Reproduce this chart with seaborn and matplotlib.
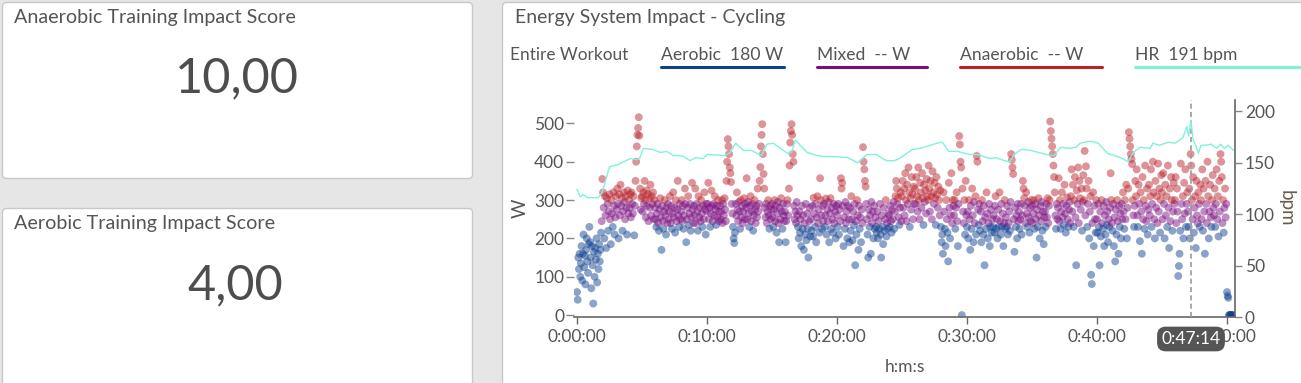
import numpy as np
import pandas as pd
import matplotlib
matplotlib.use("Agg")
import matplotlib.pyplot as plt
import seaborn as sns
from matplotlib.patches import FancyBboxPatch
from matplotlib.transforms import IdentityTransform

# ---------------- data ----------------
# power samples (W), one every 3 s, 20 per minute
power_w = [
    60, 40, 150, 120, 160, 100, 135, 180, 90, 160, 210, 125, 155, 80, 170, 200, 140, 110, 185, 230,
    190, 150, 70, 180, 130, 30, 165, 100, 175, 145, 200, 85, 160, 120, 185, 140, 170, 215, 245, 355,
    320, 280, 200, 310, 260, 175, 305, 290, 220, 270, 315, 250, 185, 300, 265, 230, 320, 285, 210, 255,
    310, 275, 330, 290, 200, 315, 260, 340, 285, 305, 220, 270, 320, 295, 250, 310, 280, 210, 325, 265,
    300, 280, 315, 255, 320, 290, 265, 310, 208, 285, 350, 400, 440, 470, 488, 516, 468, 330, 275, 305,
    310, 270, 320, 290, 350, 300, 255, 325, 285, 315, 245, 305, 280, 340, 260, 310, 290, 320, 250, 300,
    280, 250, 230, 265, 290, 240, 220, 275, 305, 255, 170, 285, 245, 225, 270, 300, 260, 210, 280, 240,
    290, 250, 270, 310, 240, 285, 225, 265, 320, 255, 280, 215, 300, 245, 275, 350, 260, 230, 290, 250,
    270, 300, 245, 285, 225, 260, 330, 290, 190, 250, 280, 310, 235, 265, 290, 220, 255, 345, 275, 240,
    285, 260, 330, 240, 290, 270, 220, 310, 255, 280, 245, 300, 265, 230, 285, 250, 320, 275, 210, 290,
    270, 290, 345, 250, 280, 230, 265, 325, 285, 245, 290, 260, 310, 275, 235, 285, 255, 300, 270, 245,
    285, 250, 270, 300, 240, 290, 260, 305, 275, 245, 350, 400, 459, 440, 420, 385, 370, 347, 290, 265,
    230, 200, 188, 215, 290, 260, 320, 275, 245, 295, 270, 225, 300, 255, 285, 240, 270, 305, 250, 290,
    280, 357, 250, 295, 265, 230, 285, 310, 245, 270, 290, 220, 260, 300, 275, 240, 285, 255, 330, 270,
    290, 350, 386, 440, 470, 498, 420, 368, 330, 280, 255, 290, 240, 270, 300, 260, 225, 285, 250, 275,
    290, 255, 230, 275, 300, 245, 285, 215, 265, 295, 240, 190, 280, 250, 305, 270, 225, 290, 260, 245,
    270, 190, 245, 290, 300, 260, 330, 390, 450, 480, 498, 470, 420, 400, 285, 250, 270, 240, 295, 260,
    230, 200, 270, 215, 250, 180, 285, 225, 260, 170, 240, 210, 290, 195, 265, 225, 150, 245, 280, 205,
    250, 220, 285, 205, 306, 265, 230, 290, 190, 255, 310, 240, 275, 215, 357, 300, 260, 225, 285, 245,
    290, 230, 260, 304, 210, 275, 245, 295, 190, 265, 305, 225, 280, 250, 215, 290, 240, 270, 200, 285,
    260, 230, 290, 210, 275, 245, 357, 330, 345, 285, 180, 255, 225, 295, 240, 270, 200, 285, 250, 190,
    280, 220, 310, 250, 195, 270, 235, 290, 130, 245, 210, 300, 260, 170, 285, 225, 255, 190, 275, 240,
    438, 400, 380, 350, 335, 290, 250, 210, 150, 275, 230, 260, 160, 295, 240, 270, 200, 285, 225, 255,
    230, 215, 270, 200, 245, 225, 290, 210, 150, 260, 230, 185, 280, 220, 250, 300, 205, 240, 225, 265,
    260, 230, 285, 245, 215, 275, 250, 295, 225, 270, 310, 350, 330, 290, 305, 255, 235, 280, 320, 245,
    310, 350, 280, 330, 260, 370, 300, 245, 340, 290, 385, 320, 230, 305, 275, 360, 315, 250, 335, 290,
    330, 290, 360, 310, 270, 385, 300, 250, 345, 320, 280, 370, 305, 235, 340, 295, 325, 265, 355, 310,
    300, 390, 330, 270, 350, 310, 250, 375, 320, 290, 345, 305, 235, 360, 315, 280, 335, 300, 260, 325,
    230, 190, 210, 160, 320, 270, 225, 180, 300, 250, 215, 140, 345, 280, 200, 260, 370, 240, 300, 285,
    260, 300, 225, 280, 320, 245, 180, 290, 467, 445, 400, 385, 0, 330, 270, 240, 300, 210, 350, 260,
    230, 270, 200, 300, 250, 170, 285, 225, 330, 260, 190, 295, 240, 310, 210, 415, 400, 275, 235, 290,
    220, 270, 190, 300, 245, 210, 285, 130, 255, 225, 320, 265, 200, 240, 290, 180, 230, 275, 215, 250,
    230, 260, 215, 285, 310, 225, 250, 200, 275, 230, 320, 245, 210, 290, 230, 265, 180, 240, 300, 225,
    255, 230, 285, 210, 240, 270, 220, 295, 420, 405, 385, 368, 250, 165, 280, 230, 260, 200, 290, 245,
    270, 225, 250, 290, 210, 260, 350, 330, 305, 285, 240, 320, 265, 230, 295, 255, 215, 280, 245, 300,
    285, 240, 265, 300, 225, 290, 250, 150, 275, 230, 305, 260, 200, 285, 245, 295, 220, 270, 185, 255,
    270, 230, 290, 255, 305, 240, 285, 300, 505, 480, 460, 440, 420, 390, 360, 320, 260, 225, 290, 250,
    280, 357, 245, 300, 225, 270, 320, 255, 290, 235, 340, 265, 215, 285, 307, 250, 230, 275, 295, 240,
    310, 380, 270, 340, 230, 300, 360, 255, 130, 325, 290, 385, 240, 350, 305, 275, 330, 220, 295, 365,
    300, 428, 260, 388, 330, 230, 290, 350, 200, 270, 310, 105, 81, 240, 320, 180, 285, 250, 215, 300,
    250, 215, 290, 230, 130, 270, 205, 300, 240, 225, 285, 180, 260, 210, 295, 235, 270, 190, 250, 230,
    280, 370, 300, 240, 220, 290, 180, 255, 140, 275, 210, 300, 245, 160, 285, 230, 265, 200, 290, 250,
    320, 270, 225, 300, 250, 340, 200, 280, 330, 477, 460, 440, 420, 407, 394, 300, 260, 230, 285, 350,
    310, 380, 260, 230, 340, 290, 193, 320, 270, 160, 360, 250, 300, 225, 390, 285, 245, 330, 210, 275,
    340, 260, 310, 380, 230, 290, 400, 320, 250, 200, 350, 280, 310, 240, 395, 270, 330, 215, 300, 365,
    320, 250, 370, 290, 200, 340, 260, 310, 230, 390, 280, 175, 330, 245, 360, 300, 220, 270, 345, 290,
    300, 360, 240, 330, 270, 102, 128, 160, 220, 395, 290, 250, 310, 200, 345, 265, 380, 230, 290, 320,
    270, 230, 330, 200, 420, 390, 300, 250, 360, 215, 280, 310, 175, 350, 260, 240, 320, 290, 230, 340,
    300, 250, 380, 220, 330, 270, 160, 350, 290, 240, 400, 310, 200, 270, 340, 255, 230, 300, 365, 280,
    260, 330, 230, 290, 380, 250, 310, 205, 350, 270, 420, 400, 360, 240, 300, 215, 280, 330, 255, 290,
    60, 50, 45, 0, 0, 0, 0, 0, 0, 0,
]
sample_step_s = 3

# heart rate trace (minutes, bpm)
hr_t = [0.0, 0.25, 0.5, 0.8, 1.2, 1.6, 1.9, 2.5, 3.1, 4.1, 4.6, 4.85, 5.1, 5.8, 6.4,
        6.9, 7.4, 7.9, 8.2, 8.7, 9.1, 9.7, 10.0, 11.4, 11.8, 12.2, 12.8, 13.4, 14.2, 14.6,
        15.1, 16.2, 16.5, 16.8, 17.7, 18.5, 19.0, 19.9, 20.8, 21.6, 22.3, 23.0, 23.8, 24.4, 24.8,
        25.8, 26.4, 26.9, 27.7, 28.1, 28.6, 29.3, 30.2, 30.8, 31.8, 32.2, 32.9, 33.3, 33.6, 34.2,
        34.9, 36.4, 36.7, 37.2, 37.9, 38.4, 38.7, 39.5, 40.1, 40.8, 41.8, 42.4, 42.8, 43.3, 44.1,
        44.3, 44.8, 45.5, 46.0, 46.6, 46.9, 47.05, 47.23, 47.4, 47.6, 47.8, 48.0, 48.3, 48.8, 49.2,
        49.5, 49.8, 50.1, 50.5]
hr_bpm = [124, 117, 119, 116, 116, 116, 120, 146, 148, 154, 153, 155, 164, 163, 160,
          161, 157, 157, 156, 152, 155, 154, 158, 157, 160, 169, 162, 162, 157, 168,
          169, 159, 160, 172, 160, 157, 156, 156, 155, 150, 158, 158, 152, 152, 154,
          163, 164, 166, 169, 170, 161, 161, 158, 158, 154, 155, 152, 151, 158, 163,
          162, 157, 157, 165, 164, 165, 169, 171, 169, 159, 155, 151, 160, 165, 164,
          169, 167, 170, 169, 174, 185, 176, 191, 172, 167, 159, 167, 167, 168, 164,
          168, 164, 167, 162]

zones = ["Aerobic", "Mixed", "Anaerobic"]
zone_colors = ["#0f3f8f", "#7b0f80", "#b8202a"]
hr_color = "#7ff2dc"
legend_labels = ["Aerobic  180 W", "Mixed  -- W", "Anaerobic  -- W", "HR  191 bpm"]
x_ticks_min = [0, 10, 20, 30, 40, 50]
x_tick_labels = ["0:00:00", "0:10:00", "0:20:00", "0:30:00", "0:40:00", "0:50:00"]
w_ticks = [0, 100, 200, 300, 400, 500]
bpm_ticks = [0, 50, 100, 150, 200]
cursor_min = 47 + 14 / 60
cursor_label = "0:47:14"
score_titles = ["Anaerobic Training Impact Score", "Aerobic Training Impact Score"]
score_values = ["10,00", "4,00"]

# ---------------- figure ----------------
sns.set_theme(style="white")
plt.rcParams["font.family"] = ["Lato", "DejaVu Sans"]
TXT = "#555555"

W, H = 1301, 383
fig = plt.figure(figsize=(W / 100, H / 100), dpi=100)
fig.patch.set_facecolor("#e6e6e6")


def px_box(x0, y0, x1, y1):
    return [x0 / W, 1 - y1 / H, (x1 - x0) / W, (y1 - y0) / H]


def panel(x0, y0, x1, y1):
    p = FancyBboxPatch((x0, H - y1), x1 - x0, y1 - y0,
                       boxstyle="round,pad=0,rounding_size=4",
                       transform=IdentityTransform(), facecolor="white",
                       edgecolor="#c8c8c8", linewidth=1.0, zorder=0)
    fig.add_artist(p)


def ftext(x, y, s, **kw):
    kw.setdefault("color", TXT)
    kw.setdefault("va", "center")
    return fig.text(x / W, 1 - y / H, s, **kw)


panel(2.5, 2.5, 472.5, 178.5)
panel(2.5, 208.5, 472.5, 395)
panel(502.5, 2.5, 1310, 395)

ftext(14, 18, score_titles[0], fontsize=14.2)
ftext(237, 78, score_values[0], fontsize=35, ha="center", color="#4d4d4d")
ftext(14, 224, score_titles[1], fontsize=14.2)
ftext(235, 285, score_values[1], fontsize=35, ha="center", color="#4d4d4d")

ftext(515, 18, "Energy System Impact - Cycling", fontsize=14)
ftext(510, 55, "Entire Workout", fontsize=12.4)

leg_x = [(661, 784), (817, 927), (960, 1102), (1135, 1300)]
leg_colors = zone_colors + [hr_color]
for (lx0, lx1), lab, col in zip(leg_x, legend_labels, leg_colors):
    ftext(lx0, 55, lab, fontsize=12.6)
    fig.add_artist(plt.Line2D([lx0 / W, lx1 / W], [1 - 67 / H, 1 - 67 / H],
                              transform=fig.transFigure, color=col, lw=2.2))

# ---------------- chart ----------------
power = np.array(power_w, dtype=float)
t_min = np.arange(len(power)) * sample_step_s / 60.0
zone = np.where(power > 295, "Anaerobic", np.where(power > 235, "Mixed", "Aerobic"))
df = pd.DataFrame({"t": t_min, "power": power, "zone": zone})

ax = fig.add_axes(px_box(574, 100, 1235, 317))
ax.set_facecolor("none")
sns.scatterplot(data=df, x="t", y="power", hue="zone", hue_order=zones,
                palette=dict(zip(zones, zone_colors)), s=32, alpha=0.48,
                linewidth=0, legend=False, ax=ax, zorder=2)

ax.set_xlim(-3 / 13, (1235 - 577) / 13)
ax.set_ylim(-5, 561)
ax.set_xticks(x_ticks_min)
ax.set_xticklabels(x_tick_labels)
ax.set_yticks(w_ticks)
ax.tick_params(axis="x", length=5, width=1, color="#666666", labelsize=12.5,
               labelcolor=TXT, pad=4, direction="out", bottom=True)
ax.tick_params(axis="y", length=6, width=1, color="#888888", labelsize=12.5,
               labelcolor=TXT, pad=1, direction="out", left=True)
for s in ["top", "right", "left"]:
    ax.spines[s].set_visible(False)
ax.spines["bottom"].set_color("#666666")
ax.spines["bottom"].set_linewidth(1.2)
ax.set_xlabel("h:m:s", fontsize=12.5, color=TXT, labelpad=10)
ax.set_ylabel("W", fontsize=13.5, color=TXT, labelpad=4)
ax.grid(False)

ax.axvline(cursor_min, color="#999999", lw=1.2, ls=(0, (3, 2)), zorder=3)

ax2 = ax.twinx()
sns.lineplot(x=hr_t, y=hr_bpm, ax=ax2, color=hr_color, lw=1.0, zorder=4)
ax2.set_ylim(0, 211)
ax2.set_yticks(bpm_ticks)
ax2.tick_params(axis="y", length=5, width=1, color="#888888", labelsize=12.5,
                labelcolor=TXT, pad=2, direction="out", right=True)
for s in ["top", "left", "bottom"]:
    ax2.spines[s].set_visible(False)
ax2.spines["right"].set_color("#666666")
ax2.spines["right"].set_linewidth(1.2)
ax2.set_ylabel("bpm", fontsize=13.5, color="#6b5a48", rotation=270, labelpad=14)
ax2.grid(False)

# cursor tooltip
ftext(1191, 339, cursor_label, fontsize=12.5, ha="center", color="white",
      bbox=dict(boxstyle="round,pad=0.25,rounding_size=0.5", facecolor="#555555",
                edgecolor="none"), zorder=10)

fig.savefig("out.png", dpi=100, facecolor=fig.get_facecolor())
